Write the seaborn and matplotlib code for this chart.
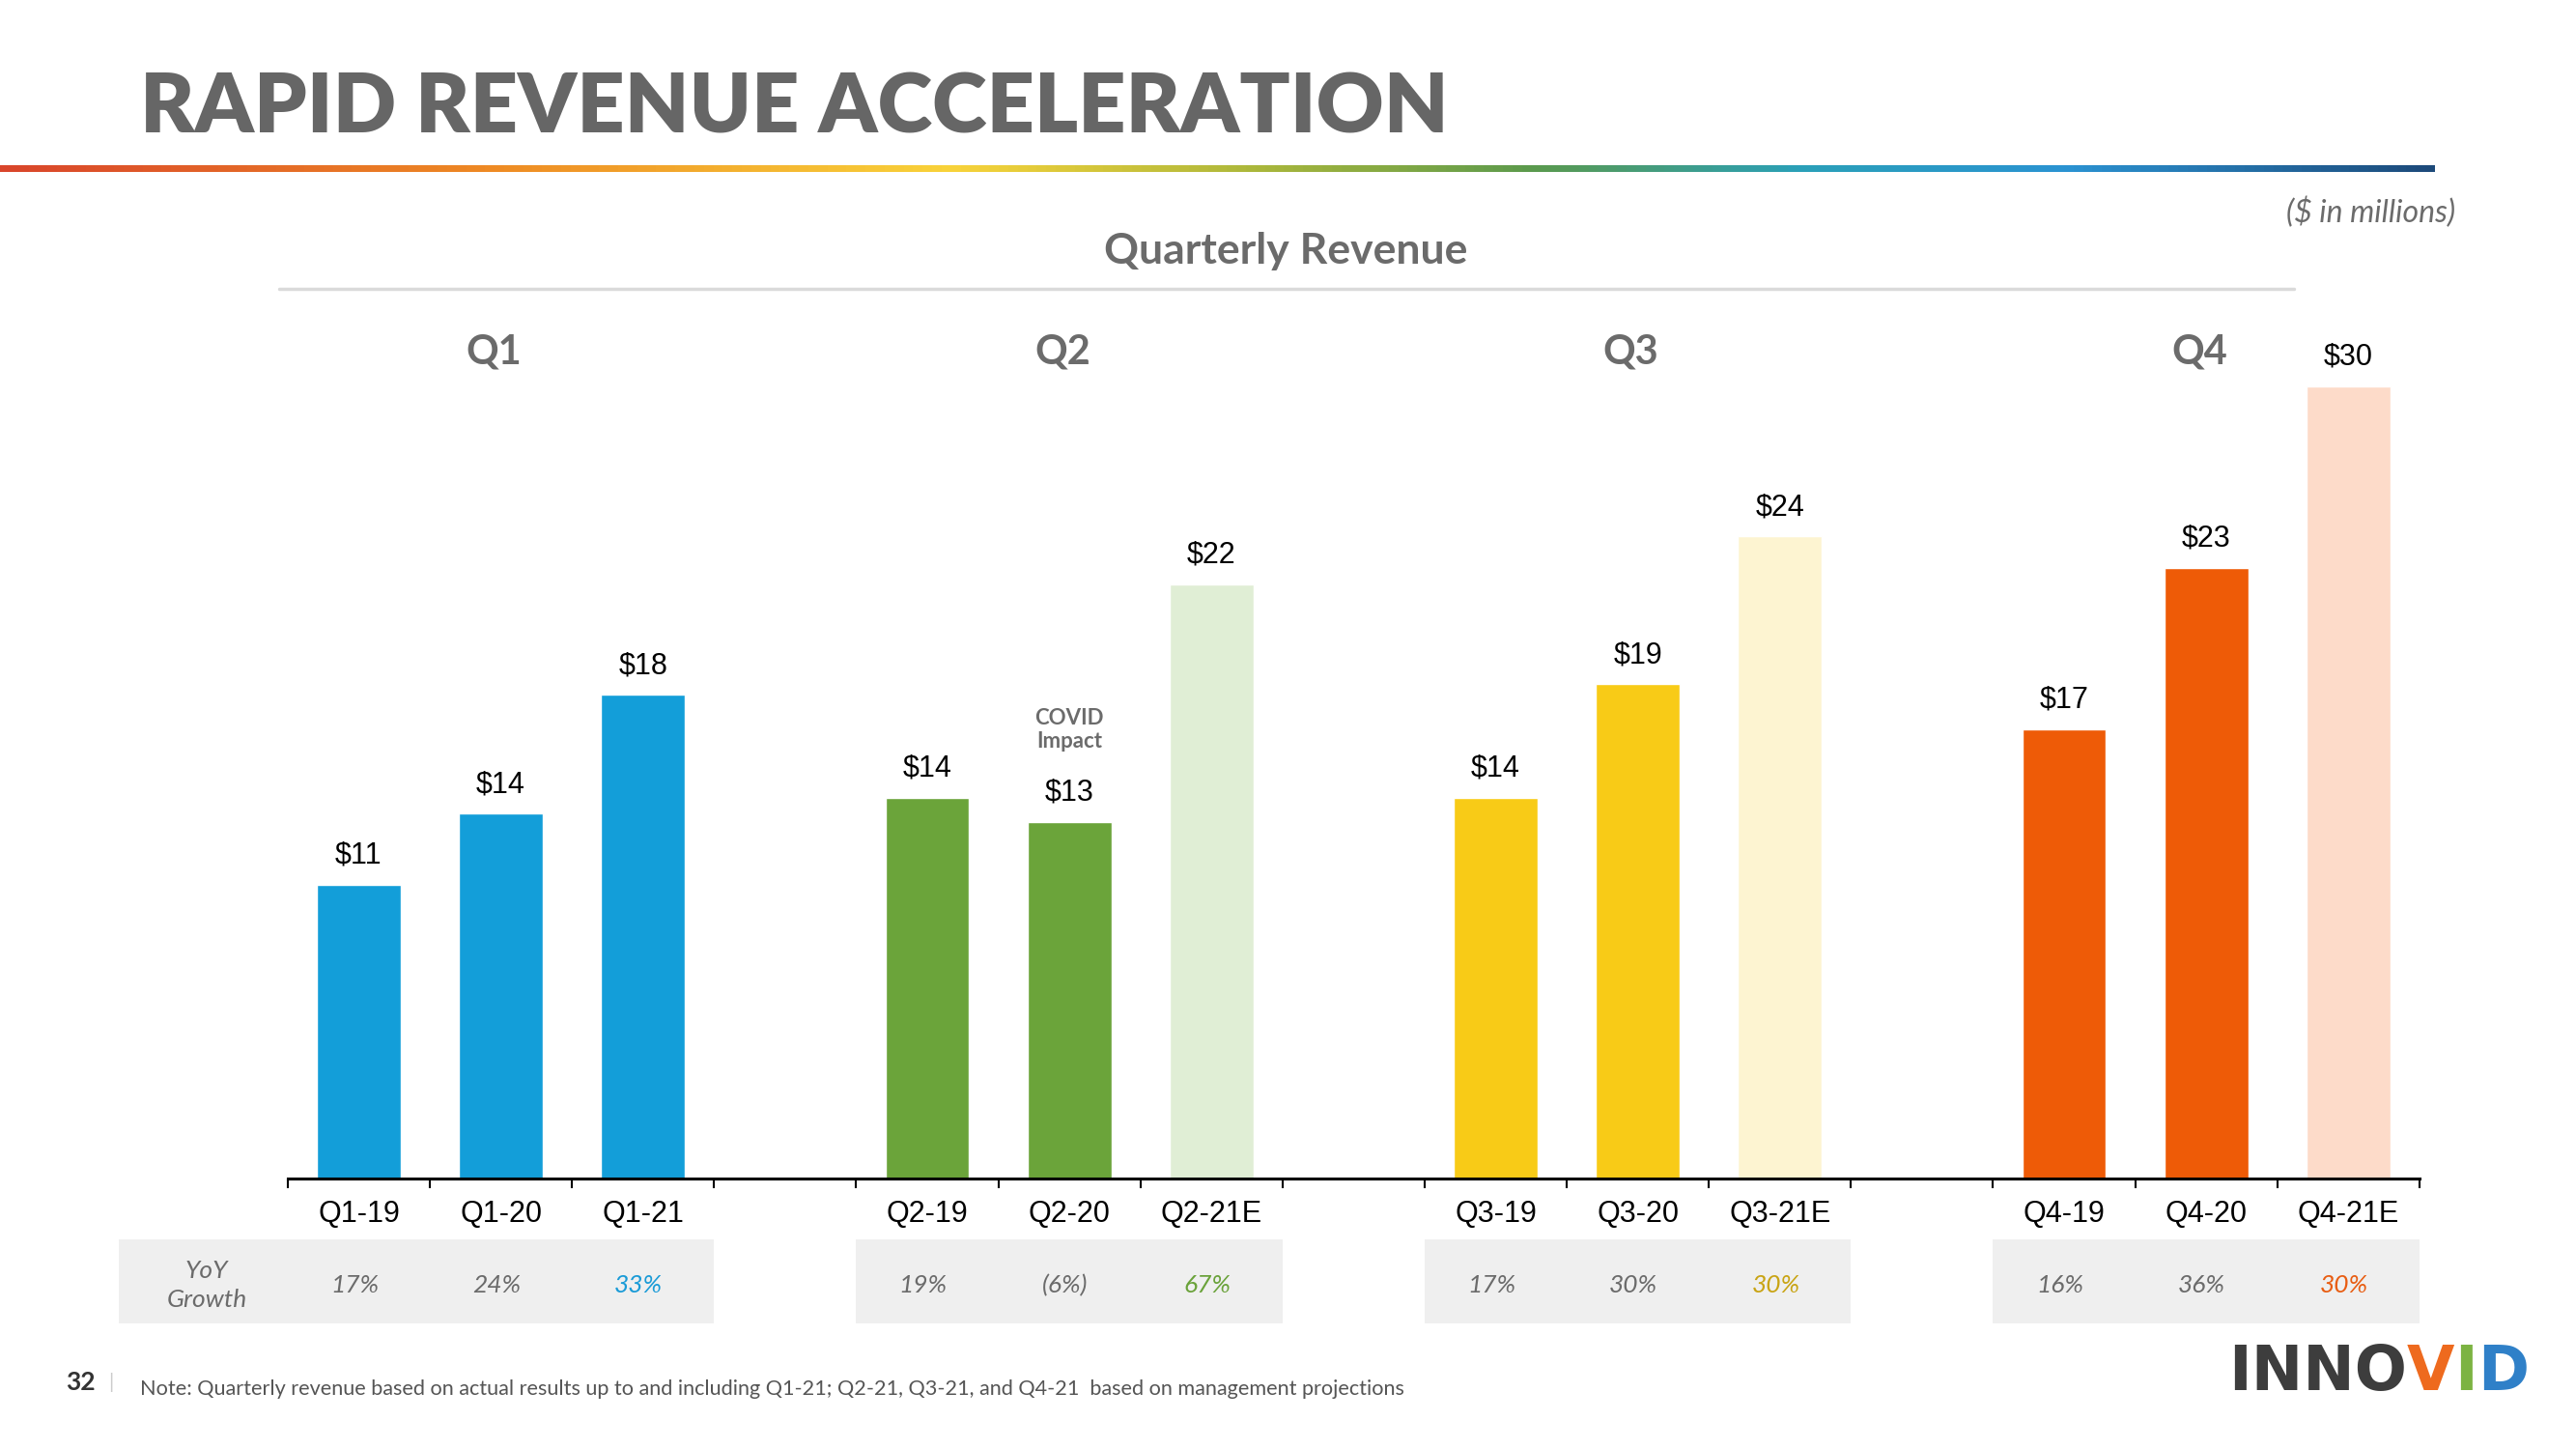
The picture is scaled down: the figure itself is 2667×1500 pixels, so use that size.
import numpy as np
import pandas as pd
import matplotlib
matplotlib.use("Agg")
import matplotlib.pyplot as plt
import matplotlib.transforms as mtransforms
import seaborn as sns
from matplotlib.colors import LinearSegmentedColormap
from matplotlib.patches import Rectangle
from matplotlib.lines import Line2D
from matplotlib.offsetbox import TextArea, HPacker, AnnotationBbox

# data ($ in millions)
quarters = ["Q1-19", "Q1-20", "Q1-21", "Q2-19", "Q2-20", "Q2-21E",
            "Q3-19", "Q3-20", "Q3-21E", "Q4-19", "Q4-20", "Q4-21E"]
revenue = [11.1, 13.8, 18.3, 14.4, 13.5, 22.5, 14.4, 18.7, 24.3, 17.0, 23.1, 30.0]
value_labels = ["$11", "$14", "$18", "$14", "$13", "$22",
                "$14", "$19", "$24", "$17", "$23", "$30"]
yoy = ["17%", "24%", "33%", "19%", "(6%)", "67%",
       "17%", "30%", "30%", "16%", "36%", "30%"]
groups = ["Q1", "Q2", "Q3", "Q4"]

bar_colors = ["#139ed9", "#139ed9", "#139ed9",
              "#6ba43a", "#6ba43a", "#e0eed5",
              "#f8cb17", "#f8cb17", "#fdf4d1",
              "#ee5b07", "#ee5b07", "#fddbc9"]
grey_txt = "#6b6b6b"
yoy_colors = [grey_txt, grey_txt, "#1a9bd7",
              grey_txt, grey_txt, "#6aa23a",
              grey_txt, grey_txt, "#c9a414",
              grey_txt, grey_txt, "#e85d12"]

# slots: 3 bars per quarter with an empty slot between quarters
order = []
for g in range(4):
    order += quarters[g * 3:(g + 1) * 3]
    if g < 3:
        order.append("gap%d" % g)
pos = [order.index(q) for q in quarters]

df = pd.DataFrame({"quarter": quarters, "revenue": revenue})

sns.set_style("white")
plt.rcParams["font.family"] = ["Lato", "DejaVu Sans"]

fig = plt.figure(figsize=(26.67, 15), dpi=100)
ax = fig.add_axes([0.1117, 0.187, 0.8275, 0.583])

sns.barplot(data=df, x="quarter", y="revenue", hue="quarter", order=order,
            hue_order=quarters, palette=dict(zip(quarters, bar_colors)),
            width=0.59, saturation=1, legend=False, ax=ax)

ax.set_xlim(-0.5, len(order) - 0.5)
ax.set_ylim(0, 32)
ax.set_xlabel("")
ax.set_ylabel("")
ax.set_yticks([])
for s in ["left", "right", "top"]:
    ax.spines[s].set_visible(False)
ax.spines["bottom"].set_linewidth(2.2)
ax.spines["bottom"].set_color("black")

# tick marks at slot boundaries, labels at slot centres
ax.set_xticks(np.arange(-0.5, len(order), 1))
ax.set_xticklabels([])
ax.tick_params(axis="x", which="major", length=7, width=1.5, color="black", bottom=True)
ax.set_xticks(range(len(order)), minor=True)
ax.set_xticklabels(["" if o.startswith("gap") else o for o in order], minor=True,
                   fontsize=22, family="Liberation Sans", color="black")
ax.tick_params(axis="x", which="minor", length=0, pad=16, bottom=True)

# value labels
for p, v, lab in zip(pos, revenue, value_labels):
    ax.annotate(lab, (p, v), xytext=(0, 11), textcoords="offset points",
                ha="center", va="bottom", fontsize=22, family="Liberation Sans", color="black")

ax.annotate("COVID\nImpact", (pos[4], revenue[4]), xytext=(0, 52), textcoords="offset points",
            ha="center", va="bottom", fontsize=16, fontweight="bold", color=grey_txt,
            linespacing=1.2)

# quarter headers
trans = mtransforms.blended_transform_factory(ax.transData, fig.transFigure)
for g, name in enumerate(groups):
    ax.text(pos[g * 3 + 1] - 0.05, 0.757, name, transform=trans, ha="center", va="center",
            fontsize=30, fontweight="bold", color=grey_txt)

# YoY growth row
box_spans = [(-1.69, 2.5), (3.5, 6.5), (7.5, 10.5), (11.5, 14.5)]
for x0, x1 in box_spans:
    ax.add_patch(Rectangle((x0, 0.0867), x1 - x0, 0.058, transform=trans,
                           facecolor="#efefef", edgecolor="none", clip_on=False, zorder=0))
for p, t, c in zip(pos, yoy, yoy_colors):
    ax.text(p - 0.03, 0.113, t, transform=trans, ha="center", va="center", fontsize=19,
            style="italic", color=c)
ax.text(-1.07, 0.113, "YoY\nGrowth", transform=trans, ha="center", va="center",
        fontsize=19, style="italic", color=grey_txt, linespacing=1.35)

# headline and gradient rule
fig.text(0.0544, 0.925, "RAPID REVENUE ACCELERATION", ha="left", va="center",
         fontsize=62, fontweight="heavy", color="#666666")
grad = LinearSegmentedColormap.from_list("brand", [
    (0.0, "#d9452b"), (0.2, "#ee8a24"), (0.39, "#f9d33a"),
    (0.52, "#a8b63c"), (0.63, "#5b9a4d"), (0.74, "#2aa0b8"),
    (0.85, "#2b93d2"), (1.0, "#1d4a7a")])
gax = fig.add_axes([0, 0.8815, 2521 / 2667, 0.0042])
gax.imshow(np.linspace(0, 1, 512)[None, :], aspect="auto", cmap=grad)
gax.set_axis_off()

fig.text(0.953, 0.853, "($ in millions)", ha="right", va="center", fontsize=23,
         style="italic", color=grey_txt)
fig.text(0.499, 0.827, "Quarterly Revenue", ha="center", va="center", fontsize=32,
         fontweight="bold", color=grey_txt)
fig.add_artist(Line2D([289 / 2667, 2375 / 2667], [0.801, 0.801], color="#dadada",
                      linewidth=2.5, transform=fig.transFigure))

# footer
fig.text(0.0255, 0.046, "32", ha="left", va="center", fontsize=19, fontweight="bold",
         color="#333333")
fig.text(0.042, 0.046, "|", ha="left", va="center", fontsize=15, color="#cccccc")
fig.text(0.0544, 0.041, "Note: Quarterly revenue based on actual results up to and including "
         "Q1-21; Q2-21, Q3-21, and Q4-21  based on management projections",
         ha="left", va="center", fontsize=15.6, color="#555555")

logo_parts = [("INNO", "#3d3d3d"), ("V", "#ee6a1e"), ("I", "#7cb342"), ("D", "#2f80c8")]
logo = HPacker(children=[TextArea(t, textprops=dict(fontsize=46, fontweight="heavy", color=c,
                                                     family="DejaVu Sans"))
                         for t, c in logo_parts], pad=0, sep=0)
fig.add_artist(AnnotationBbox(logo, (2307 / 2667, 0.0527), xycoords="figure fraction",
                              box_alignment=(0, 0.5), frameon=False, pad=0))

fig.savefig("out.png", dpi=100)
